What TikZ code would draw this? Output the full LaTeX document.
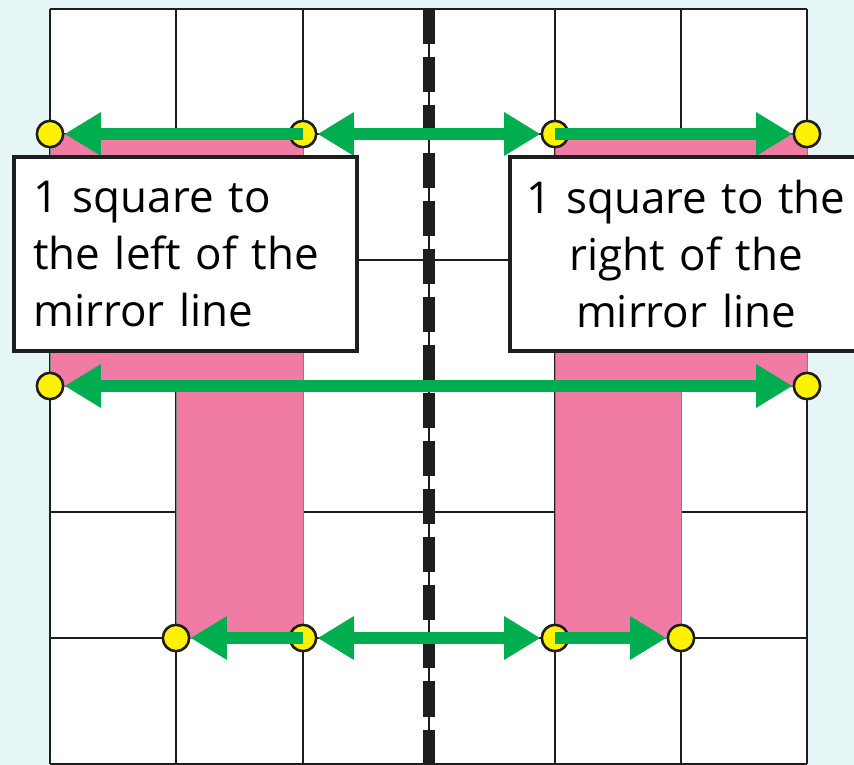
\documentclass[tikz,border=0pt]{standalone}
\usepackage{fontspec}
\setmainfont{Open Sans}
\usetikzlibrary{arrows.meta,positioning}
\definecolor{bgcyan}{RGB}{230,246,246}
\definecolor{shapepink}{RGB}{240,124,166}
\definecolor{arrowgreen}{RGB}{0,174,80}
\definecolor{gridline}{RGB}{30,30,30}
\tikzset{
      gridpen/.style={
        draw=gridline,
        line width=2.4pt
      },
      pinkpart/.style={
        fill=shapepink,
        draw=gray,
        line width=0.8pt
      },
      mirrordash/.style={
        draw=gridline,
        line width=10pt,
        dash pattern=on 29.9pt off 11.1pt
      },
      mirrorthin/.style={
        draw=gridline,
        line width=1.6pt
      },
      vertexdot/.style={
        circle,
        draw=gridline,
        line width=2.2pt,
        fill=yellow,
        minimum size=22.5pt,
        inner sep=0pt
      },
      movearrow/.style={
        draw=arrowgreen,
        line width=10.5pt,
        -{Triangle[length=31pt,width=35pt]}
      },
      labelbox/.style={
        draw=gridline,
        line width=3pt,
        fill=white,
        minimum height=165.6pt,
        inner sep=0pt,
        font=\fontsize{37.5}{48.7}\selectfont
      }
    }
\begin{document}
\begin{tikzpicture}[x=0.03cm,y=-0.03cm]
    \useasboundingbox (0,0) rectangle (854,765);
    \fill[bgcyan] (0,0) rectangle (854,765);
    \fill[white] (50,9) rectangle (807,764);
    \foreach \gx in {50,176,303,429,555,681,807}
      \draw[gridpen] (\gx,9) -- (\gx,764);
    \foreach \gy in {9,134,260,386,512,638,764}
      \draw[gridpen] (50,\gy) -- (807,\gy);
    \path[pinkpart] (50,134) -- (303,134) -- (303,638) -- (176,638) -- (176,386) -- (50,386) -- cycle;
    \path[pinkpart] (555,134) -- (807,134) -- (807,386) -- (681,386) -- (681,638) -- (555,638) -- cycle;
    \coordinate (mirrortop) at (429,9);
    \coordinate (mirrorbot) at (429,764);
    \draw[mirrorthin] (mirrortop) -- (mirrorbot);
    \draw[mirrordash] (mirrortop) -- (mirrorbot);
    \node[vertexdot] (topoutL) at (50,134) {};
    \node[vertexdot] (topinL) at (303,134) {};
    \node[vertexdot] (topinR) at (555,134) {};
    \node[vertexdot] (topoutR) at (807,134) {};
    \node[vertexdot] (midoutL) at (50,386) {};
    \node[vertexdot] (midoutR) at (807,386) {};
    \node[vertexdot] (lowoutL) at (176,638) {};
    \node[vertexdot] (lowinL) at (303,638) {};
    \node[vertexdot] (lowinR) at (555,638) {};
    \node[vertexdot] (lowoutR) at (681,638) {};
    \coordinate (mirrorA) at (429,134);
    \coordinate (mirrorB) at (429,386);
    \coordinate (mirrorC) at (429,638);
    \draw[movearrow] (mirrorA) -- (topinL);
    \draw[movearrow] (topinL.center) -- (topoutL);
    \draw[movearrow] (mirrorA) -- (topinR);
    \draw[movearrow] (topinR.center) -- (topoutR);
    \draw[movearrow] (mirrorB) -- (midoutL);
    \draw[movearrow] (mirrorB) -- (midoutR);
    \draw[movearrow] (mirrorC) -- (lowinL);
    \draw[movearrow] (lowinL.center) -- (lowoutL);
    \draw[movearrow] (mirrorC) -- (lowinR);
    \draw[movearrow] (lowinR.center) -- (lowoutR);
    \node[labelbox, text width=260pt, inner xsep=16.2pt, align=left] (leftnote) at (185.5,254) {1 square to\\the left of the\\mirror line};
    \node[labelbox, text width=300.5pt, align=center] (rightnote) at (686,254) {1 square to the\\right of the\\mirror line};
    \end{tikzpicture}
\end{document}
